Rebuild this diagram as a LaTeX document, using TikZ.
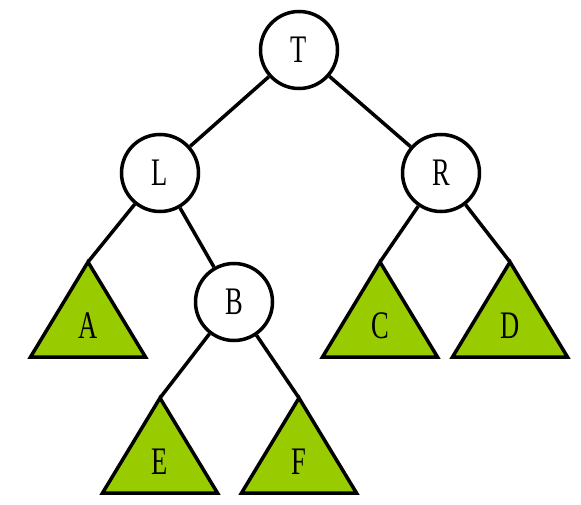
\documentclass[tikz,border=0pt]{standalone}
\usepackage{fontspec}
\setmainfont{Liberation Serif}
\begin{document}
\begin{tikzpicture}[x=1pt,y=-1pt,
  treenode/.style={circle,draw=black,fill=white,line width=3.5pt,minimum size=77pt,inner sep=0pt,font=\fontsize{39}{39}\selectfont},
  subtree/.style={draw=black,fill=leafgreen,line width=3.5pt,line join=miter},
  edge/.style={draw=black,line width=3.5pt},
  leaflabel/.style={inner sep=0pt,font=\fontsize{39}{39}\selectfont}]
\definecolor{leafgreen}{HTML}{99CC00}
\useasboundingbox (0,0) rectangle (581,505);
\newcommand{\narrow}[1]{\scalebox{0.68}[1]{#1}}
% internal nodes
\node[treenode] (t) at (299,50) {\narrow{T}};
\node[treenode] (l) at (160,173) {\narrow{L}};
\node[treenode] (r) at (441,173) {\narrow{R}};
\node[treenode] (b) at (234,302) {\narrow{B}};
% apexes of the subtree triangles
\coordinate (a) at (88,262);
\coordinate (c) at (380,262);
\coordinate (d) at (510,262);
\coordinate (e) at (160,398);
\coordinate (f) at (299,398);
% subtree triangles
\foreach \p in {a,c,d,e,f}{
  \path[subtree] (\p) -- ++(57.5,95) -- ++(-115,0) -- cycle;
}
\node[leaflabel] (la) at ([yshift=-64pt]a) {\narrow{A}};
\node[leaflabel] (lc) at ([yshift=-64pt]c) {\narrow{C}};
\node[leaflabel] (ld) at ([yshift=-64pt]d) {\narrow{D}};
\node[leaflabel] (le) at ([yshift=-64pt]e) {\narrow{E}};
\node[leaflabel] (lf) at ([yshift=-64pt]f) {\narrow{F}};
% edges
\draw[edge] (t) -- (l);
\draw[edge] (t) -- (r);
\draw[edge] (l) -- (a);
\draw[edge] (l) -- (b);
\draw[edge] (r) -- (c);
\draw[edge] (r) -- (d);
\draw[edge] (b) -- (e);
\draw[edge] (b) -- (f);
\end{tikzpicture}
\end{document}
